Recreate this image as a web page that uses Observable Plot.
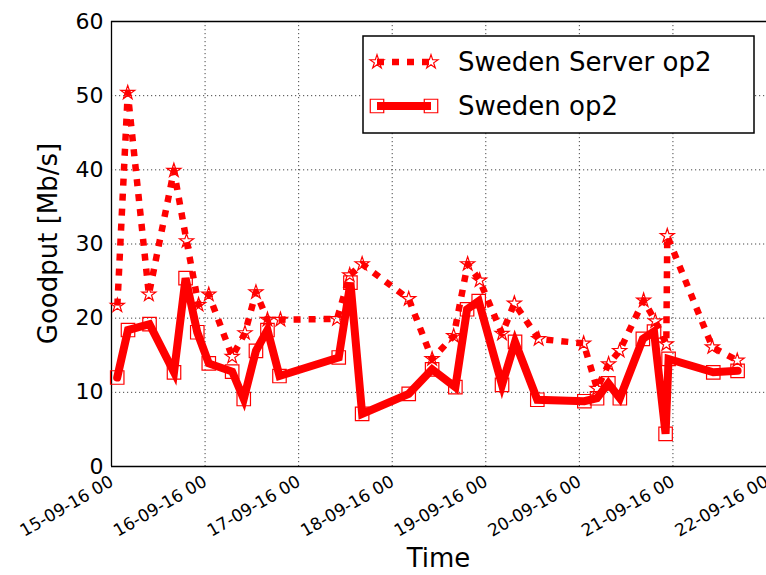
<!DOCTYPE html>
<html>
<head>
<meta charset="utf-8">
<script src="https://cdn.jsdelivr.net/npm/d3@7"></script>
<script src="https://cdn.jsdelivr.net/npm/@observablehq/plot@0.6"></script>
<style>
  html, body { margin: 0; padding: 0; background: #fff; }
  #chart { width: 766px; height: 575px; }
</style>
</head>
<body>
<div id="chart"></div>
<script>
// ---- data ----
const serverTimes = ["2016-09-15T01:30","2016-09-15T04:10","2016-09-15T09:35","2016-09-15T16:00","2016-09-15T19:15","2016-09-15T22:20","2016-09-16T00:57","2016-09-16T06:57","2016-09-16T10:14","2016-09-16T13:03","2016-09-16T16:00","2016-09-16T19:20","2016-09-17T09:52","2016-09-17T13:06","2016-09-17T16:17","2016-09-18T04:14","2016-09-18T10:14","2016-09-18T15:46","2016-09-18T19:21","2016-09-18T22:25","2016-09-19T04:10","2016-09-19T07:20","2016-09-19T13:34","2016-09-20T01:06","2016-09-20T04:32","2016-09-20T07:30","2016-09-20T10:20","2016-09-20T16:29","2016-09-20T19:29","2016-09-20T22:18","2016-09-20T22:33","2016-09-21T10:06","2016-09-21T16:30"];
const serverValues = [21.7,50.4,23.2,39.9,30.4,21.8,23.2,14.8,18.0,23.5,19.8,19.8,19.9,25.8,27.3,22.6,14.5,17.6,27.3,25.1,17.9,22.0,17.2,16.6,10.5,13.8,15.6,22.4,19.6,16.5,31.1,16.1,14.3];

const op2Times = ["2016-09-15T01:28","2016-09-15T04:14","2016-09-15T09:45","2016-09-15T16:02","2016-09-15T19:00","2016-09-15T22:00","2016-09-16T00:57","2016-09-16T06:57","2016-09-16T09:55","2016-09-16T13:03","2016-09-16T16:00","2016-09-16T19:05","2016-09-17T10:17","2016-09-17T13:17","2016-09-17T16:17","2016-09-18T04:14","2016-09-18T10:14","2016-09-18T16:12","2016-09-18T19:12","2016-09-18T22:11","2016-09-19T04:10","2016-09-19T07:30","2016-09-19T13:13","2016-09-20T01:17","2016-09-20T04:32","2016-09-20T07:26","2016-09-20T10:23","2016-09-20T16:17","2016-09-20T19:09","2016-09-20T22:07","2016-09-20T22:53","2016-09-21T10:21","2016-09-21T16:35"];
const op2Values = [12.0,18.4,19.2,12.7,25.4,18.1,13.9,12.8,9.1,15.6,18.4,12.2,14.7,24.8,7.1,9.8,13.1,10.7,21.2,22.3,11.0,16.8,9.0,8.8,9.2,11.2,9.2,17.2,18.2,4.4,14.5,12.7,12.9];

const xTickDates = ["2016-09-15","2016-09-16","2016-09-17","2016-09-18","2016-09-19","2016-09-20","2016-09-21","2016-09-22"];
const yTicks = [0,10,20,30,40,50,60];
const seriesNames = ["Sweden Server op2","Sweden op2"];
const xLabel = "Time";
const yLabel = "Goodput [Mb/s]";

// ---- build tables ----
const parse = d3.utcParse("%Y-%m-%dT%H:%M");
const parseDay = d3.utcParse("%Y-%m-%d");
const server = serverTimes.map((t, i) => ({time: parse(t), value: serverValues[i]}));
const op2 = op2Times.map((t, i) => ({time: parse(t), value: op2Values[i]}));
const xTicks = xTickDates.map(parseDay);
const fmt = d3.utcFormat("%d-%m-%y %H");

const RED = "#ff0000";
const FONT = "DejaVu Sans, Liberation Sans, sans-serif";
const STAR_R = 4.4, SQUARE_R = 7.6;

const chart = Plot.plot({
  width: 766,
  height: 575,
  marginLeft: 111,
  marginRight: 0,
  marginTop: 21,
  marginBottom: 109,
  style: {fontFamily: FONT, background: "#fff", color: "#000"},
  x: {type: "utc", domain: [xTicks[0], xTicks[xTicks.length - 1]], axis: null},
  y: {domain: [0, 60]},
  marks: [
    Plot.gridX(xTicks, {stroke: "#333", strokeOpacity: 0.9, strokeDasharray: "1.2,2.8", strokeWidth: 1}),
    Plot.gridY(yTicks, {stroke: "#333", strokeOpacity: 0.9, strokeDasharray: "1.2,2.8", strokeWidth: 1}),
    Plot.axisY(yTicks, {tickSize: 0, tickPadding: 8, fontSize: 22, label: null}),
    // x tick labels, rotated like the reference
    Plot.text(xTicks, {x: d => d, frameAnchor: "bottom", text: d => fmt(d), rotate: -30,
      textAnchor: "end", lineAnchor: "top", dy: 8, dx: -3, fontSize: 17, fill: "#000"}),
    Plot.ruleY([0, 60], {stroke: "#000", strokeWidth: 1.3}),
    Plot.ruleX([xTicks[0]], {stroke: "#000", strokeWidth: 1.3}),
    // Sweden Server op2: dotted line with star markers
    Plot.line(server, {x: "time", y: "value", stroke: RED, strokeWidth: 6.5, strokeDasharray: "7,8", strokeLinecap: "butt"}),
    Plot.dot(server, {x: "time", y: "value", symbol: "star", r: STAR_R, stroke: RED, strokeWidth: 1.2, fill: "none"}),
    // Sweden op2: solid line with square markers
    Plot.line(op2, {x: "time", y: "value", stroke: RED, strokeWidth: 8, strokeLinejoin: "miter", strokeMiterlimit: 4}),
    Plot.dot(op2, {x: "time", y: "value", symbol: "square", r: SQUARE_R, stroke: RED, strokeWidth: 1.2, fill: "none"})
  ]
});

document.getElementById("chart").appendChild(chart);

// ---- axis titles and legend (non-data decorations) ----
const svg = d3.select(chart);
svg.append("text")
  .attr("x", 438.5).attr("y", 567)
  .attr("text-anchor", "middle")
  .attr("font-size", 26).attr("font-family", FONT).attr("fill", "#000")
  .text(xLabel);
svg.append("text")
  .attr("transform", "translate(57,243.5) rotate(-90)")
  .attr("text-anchor", "middle")
  .attr("font-size", 26).attr("font-family", FONT).attr("fill", "#000")
  .text(yLabel);

const lg = svg.append("g");
lg.append("rect").attr("x", 363).attr("y", 36).attr("width", 391).attr("height", 97)
  .attr("fill", "#fff").attr("stroke", "#000").attr("stroke-width", 1.5);
const rows = [
  {name: seriesNames[0], y: 62, dash: "7,8", w: 6.5, sym: d3.symbolStar, r: STAR_R},
  {name: seriesNames[1], y: 106, dash: null, w: 8, sym: d3.symbolSquare, r: SQUARE_R}
];
rows.forEach(r => {
  lg.append("line").attr("x1", 377).attr("x2", 431).attr("y1", r.y).attr("y2", r.y)
    .attr("stroke", RED).attr("stroke-width", r.w)
    .attr("stroke-dasharray", r.dash);
  [377, 431].forEach(x => {
    lg.append("path").attr("d", d3.symbol(r.sym, Math.PI * r.r * r.r)())
      .attr("transform", `translate(${x},${r.y})`)
      .attr("fill", "none").attr("stroke", RED).attr("stroke-width", 1.2);
  });
  lg.append("text").attr("x", 458).attr("y", r.y).attr("dy", "0.35em")
    .attr("text-anchor", "start")
    .attr("font-size", 26).attr("font-family", FONT).attr("fill", "#000")
    .text(r.name);
});
</script>
</body>
</html>
